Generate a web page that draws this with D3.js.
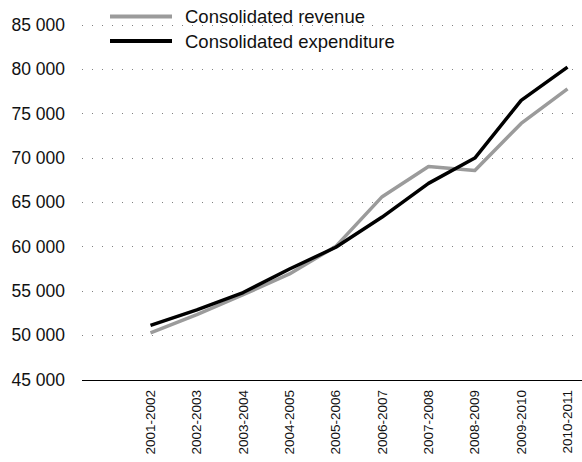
<!DOCTYPE html>
<html>
<head>
<meta charset="utf-8">
<script src="https://cdn.jsdelivr.net/npm/d3@7"></script>
<style>
  html, body { margin: 0; padding: 0; background: #fff; }
  svg { display: block; font-family: "Liberation Sans", Arial, sans-serif; }
</style>
</head>
<body>
<svg id="chart" width="582" height="462"></svg>
<script>
const categories = ["2001-2002","2002-2003","2003-2004","2004-2005","2005-2006","2006-2007","2007-2008","2008-2009","2009-2010","2010-2011"];
const revenue     = [50250, 52300, 54550, 56900, 60000, 65600, 69000, 68550, 73850, 77750];
const expenditure = [51100, 52850, 54800, 57450, 59900, 63300, 67100, 69950, 76450, 80200];
const yTicks = [45000, 50000, 55000, 60000, 65000, 70000, 75000, 80000, 85000];
const seriesNames = ["Consolidated revenue", "Consolidated expenditure"];
const seriesColors = ["#9b9b9b", "#000000"];

const svg = d3.select("#chart");
const x = d3.scalePoint().domain(categories).range([150.5, 567.5]);
const y = d3.scaleLinear().domain([45000, 85000]).range([379.5, 24.5]);
const fmt = v => d3.format(",")(v).replace(",", " ");

// gridlines
svg.append("g").selectAll("line").data(yTicks.filter(t => t !== 45000)).join("line")
  .attr("x1", 82).attr("x2", 574)
  .attr("y1", d => Math.round(y(d)) + 0.5).attr("y2", d => Math.round(y(d)) + 0.5)
  .attr("stroke", "#808080").attr("stroke-width", 1)
  .attr("stroke-dasharray", "1 9");

// baseline axis
svg.append("line").attr("x1", 82).attr("x2", 582)
  .attr("y1", Math.round(y(45000)) + 0.5).attr("y2", Math.round(y(45000)) + 0.5)
  .attr("stroke", "#000").attr("stroke-width", 1);

// y labels
svg.append("g").selectAll("text").data(yTicks).join("text")
  .attr("x", 65).attr("y", d => y(d)).attr("dy", "0.36em")
  .attr("text-anchor", "end").attr("font-size", "17.5px").attr("fill", "#111")
  .text(fmt);

// x labels
svg.append("g").selectAll("text").data(categories).join("text")
  .attr("transform", d => `translate(${x(d) + 4.5},390) rotate(-90)`)
  .attr("text-anchor", "end").attr("font-size", "13.5px").attr("fill", "#111")
  .text(d => d);

// lines
const line = d3.line().x((d, i) => x(categories[i])).y(d => y(d));
[revenue, expenditure].forEach((s, k) => {
  svg.append("path").datum(s).attr("d", line)
    .attr("fill", "none").attr("stroke", seriesColors[k])
    .attr("stroke-width", 3.5).attr("stroke-linejoin", "round");
});

// legend
const leg = svg.append("g");
seriesNames.forEach((n, k) => {
  const yy = 16.5 + k * 24.5;
  leg.append("line").attr("x1", 110).attr("x2", 172).attr("y1", yy).attr("y2", yy)
    .attr("stroke", seriesColors[k]).attr("stroke-width", 4);
  leg.append("text").attr("x", 185).attr("y", yy).attr("dy", "0.36em")
    .attr("font-size", "18.5px").attr("fill", "#111").text(n);
});
</script>
</body>
</html>
